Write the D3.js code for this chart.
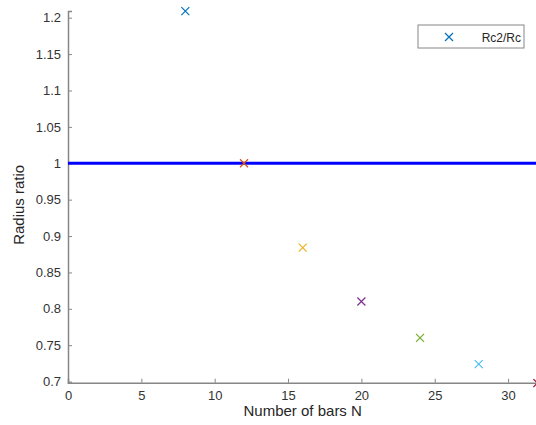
<!DOCTYPE html>
<html>
<head>
<meta charset="utf-8">
<script src="https://cdn.jsdelivr.net/npm/d3@7"></script>
<style>
  body { margin: 0; background: #fff; }
  svg { display: block; font-family: "Liberation Sans", Arial, sans-serif; }
</style>
</head>
<body>
<svg></svg>
<script>
// data
const bars = [8, 12, 16, 20, 24, 28, 32];
const ratio = [1.209, 1.0, 0.884, 0.810, 0.760, 0.724, 0.698];
const colors = ["#0072BD", "#D95319", "#EDB120", "#7E2F8E", "#77AC30", "#4DBEEE", "#A2142F"];
const xTicks = [0, 5, 10, 15, 20, 25, 30];
const yTicks = [0.7, 0.75, 0.8, 0.85, 0.9, 0.95, 1, 1.05, 1.1, 1.15, 1.2];
const refLine = 1;

const W = 536, H = 425;
const margin = { top: 11, right: -1.4, bottom: 42.3, left: 68 };
const width = W - margin.left - margin.right;
const height = H - margin.top - margin.bottom;

const svg = d3.select("svg").attr("width", W).attr("height", H);

const g = svg.append("g")
    .attr("transform", `translate(${margin.left},${margin.top})`);

const x = d3.scaleLinear().domain([0, 32]).range([0, width]);
const y = d3.scaleLinear().domain([0.6985, 1.2092]).range([height, 0]);

const axisCol = "#868686";
const textCol = "#262626";

// axes
const xAxis = d3.axisBottom(x).tickValues(xTicks).tickSize(-4).tickPadding(8).tickFormat(d3.format("d"));
const yAxis = d3.axisLeft(y).tickValues(yTicks).tickSize(-4).tickPadding(7).tickFormat(d => String(d));

const gx = g.append("g").attr("transform", `translate(0,${height})`).call(xAxis);
const gy = g.append("g").call(yAxis);

[gx, gy].forEach(a => {
    a.select(".domain").attr("stroke", axisCol).attr("stroke-width", 1.5);
    a.selectAll(".tick line").attr("stroke", axisCol);
    a.selectAll(".tick text").attr("fill", "#333").style("font-size", "13px");
});
gx.selectAll(".tick text").attr("dy", "0.75em");

// reference line
g.append("line")
    .attr("x1", 0).attr("x2", width + 5)
    .attr("y1", y(refLine)).attr("y2", y(refLine))
    .attr("stroke", "#0000ff").attr("stroke-width", 3);

// markers
const s = 4;
const mk = g.selectAll(".mk").data(bars)
    .enter()
    .append("g")
    .attr("class", "mk")
    .attr("transform", (d, i) => `translate(${x(d)},${y(ratio[i])})`);

mk.append("path")
    .attr("d", `M${-s},${-s}L${s},${s}M${-s},${s}L${s},${-s}`)
    .attr("stroke", (d, i) => colors[i])
    .attr("stroke-width", 1.2)
    .attr("fill", "none");

// labels
svg.append("text")
    .attr("x", margin.left + x(16))
    .attr("y", 416)
    .attr("text-anchor", "middle")
    .attr("fill", textCol)
    .style("font-size", "15px")
    .text("Number of bars N");

svg.append("text")
    .attr("transform", `translate(24,${margin.top + height / 2 + 8}) rotate(-90)`)
    .attr("text-anchor", "middle")
    .attr("fill", textCol)
    .style("font-size", "15px")
    .text("Radius ratio");

// legend
const lg = svg.append("g").attr("transform", "translate(418,25)");
lg.append("rect")
    .attr("width", 106).attr("height", 23)
    .attr("fill", "#fff").attr("stroke", axisCol).attr("stroke-width", 1);
lg.append("path")
    .attr("d", `M${31 - s},${12 - s}L${31 + s},${12 + s}M${31 - s},${12 + s}L${31 + s},${12 - s}`)
    .attr("stroke", colors[0]).attr("stroke-width", 1.2);
lg.append("text")
    .attr("x", 103).attr("y", 16.5)
    .attr("text-anchor", "end")
    .attr("fill", textCol)
    .style("font-size", "12px")
    .text("Rc2/Rc");
</script>
</body>
</html>
